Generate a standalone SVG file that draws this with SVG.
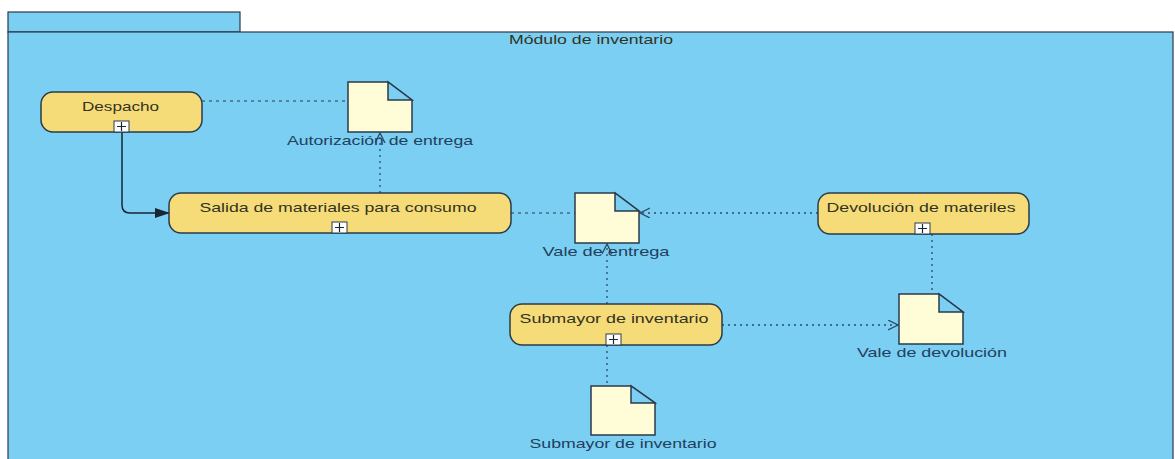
<svg xmlns="http://www.w3.org/2000/svg" width="1175" height="459" viewBox="0 0 1175 459">
<style>
.pkg{fill:#7bcff2;stroke:#2b3a4a;stroke-width:1.2}
.node{fill:#f6dc78;stroke:#2b3a4a;stroke-width:1.5}
.doc{fill:#fffcd8;stroke:#2b3a4a;stroke-width:1.5}
.fold{fill:#7bcff2;stroke:#2b3a4a;stroke-width:1.5}
.plus{fill:#ffffff;stroke:#2b3a4a;stroke-width:1}
.t{font-family:"Liberation Sans",Arial,sans-serif;font-size:13px;fill:#333322;text-anchor:middle}
.dl{font-family:"Liberation Sans",Arial,sans-serif;font-size:13px;fill:#22405e;text-anchor:middle}
.dot{fill:none;stroke:#2b4a6a;stroke-width:1.3;stroke-dasharray:2 4}
.dash{fill:none;stroke:#2b3a4a;stroke-width:1;stroke-dasharray:3 4}
.solid{fill:none;stroke:#1a2633;stroke-width:1.5}
</style>
<defs>
<marker id="open" markerWidth="12" markerHeight="12" refX="10" refY="5" orient="auto" markerUnits="userSpaceOnUse">
<path d="M0,0 L10,5 L0,10" fill="none" stroke="#2b4a6a" stroke-width="1.3"/>
</marker>
<marker id="fill" markerWidth="16" markerHeight="12" refX="15" refY="5" orient="auto" markerUnits="userSpaceOnUse">
<path d="M0,0 L15,5 L0,10 Z" fill="#1a2633"/>
</marker>
</defs>
<rect x="0" y="0" width="1175" height="459" fill="#ffffff"/>
<g id="package">
<rect class="pkg" x="8" y="12" width="232" height="20"/>
<rect class="pkg" x="8" y="32" width="1165" height="440"/>
<text class="t" x="591" y="44" textLength="164" lengthAdjust="spacingAndGlyphs">Módulo de inventario</text>
</g>
<g id="connectors">
<path class="solid" d="M122,132 V205 Q122,213 130,213 H170" marker-end="url(#fill)"/>
<path class="dash" d="M202,101 H348"/>
<path class="dot" d="M380,193 V133" marker-end="url(#open)"/>
<path class="dash" d="M511,213 H575"/>
<path class="dot" d="M818,213 H640" marker-end="url(#open)"/>
<path class="dot" d="M607,304 V244" marker-end="url(#open)"/>
<path class="dot" d="M932,234 V294"/>
<path class="dot" d="M722,325 H898" marker-end="url(#open)"/>
<path class="dot" d="M607,345 V386"/>
</g>
<g id="despacho">
<rect class="node" x="41" y="92" width="161" height="40" rx="12"/>
<text class="t" x="120.5" y="111" textLength="77" lengthAdjust="spacingAndGlyphs">Despacho</text>
<rect class="plus" x="114" y="121" width="15" height="11"/>
<path d="M117,126.5 H126 M121.5,122 V131" stroke="#1a2633" stroke-width="1.2"/>
</g>
<g id="salida">
<rect class="node" x="169" y="193" width="342" height="40" rx="12"/>
<text class="t" x="338" y="212" textLength="277" lengthAdjust="spacingAndGlyphs">Salida de materiales para consumo</text>
<rect class="plus" x="332" y="222" width="15" height="11"/>
<path d="M335,227.5 H344 M339.5,223 V232" stroke="#1a2633" stroke-width="1.2"/>
</g>
<g id="devolucion">
<rect class="node" x="818" y="193" width="211" height="41" rx="12"/>
<text class="t" x="921" y="212" textLength="189" lengthAdjust="spacingAndGlyphs">Devolución de materiles</text>
<rect class="plus" x="915" y="223" width="15" height="11"/>
<path d="M918,228.5 H927 M922.5,224 V233" stroke="#1a2633" stroke-width="1.2"/>
</g>
<g id="submayor">
<rect class="node" x="510" y="304" width="212" height="41" rx="12"/>
<text class="t" x="614" y="323" textLength="189" lengthAdjust="spacingAndGlyphs">Submayor de inventario</text>
<rect class="plus" x="606" y="334" width="15" height="11"/>
<path d="M609,339.5 H618 M613.5,335 V344" stroke="#1a2633" stroke-width="1.2"/>
</g>
<g id="doc-autorizacion">
<path class="doc" d="M348,82 H388 L412,100 V132 H348 Z"/>
<path class="fold" d="M388,82 V100 H412 Z"/>
<text class="dl" x="380" y="145" textLength="186" lengthAdjust="spacingAndGlyphs">Autorización de entrega</text>
</g>
<g id="doc-vale-entrega">
<path class="doc" d="M575,193 H615 L639,211 V243 H575 Z"/>
<path class="fold" d="M615,193 V211 H639 Z"/>
<text class="dl" x="606" y="256" textLength="127" lengthAdjust="spacingAndGlyphs">Vale de entrega</text>
</g>
<g id="doc-vale-devolucion">
<path class="doc" d="M899,294 H939 L963,312 V344 H899 Z"/>
<path class="fold" d="M939,294 V312 H963 Z"/>
<text class="dl" x="932" y="357" textLength="150" lengthAdjust="spacingAndGlyphs">Vale de devolución</text>
</g>
<g id="doc-submayor">
<path class="doc" d="M591,386 H631 L655,403 V435 H591 Z"/>
<path class="fold" d="M631,386 V403 H655 Z"/>
<text class="dl" x="623" y="448" textLength="187" lengthAdjust="spacingAndGlyphs">Submayor de inventario</text>
</g>
</svg>
